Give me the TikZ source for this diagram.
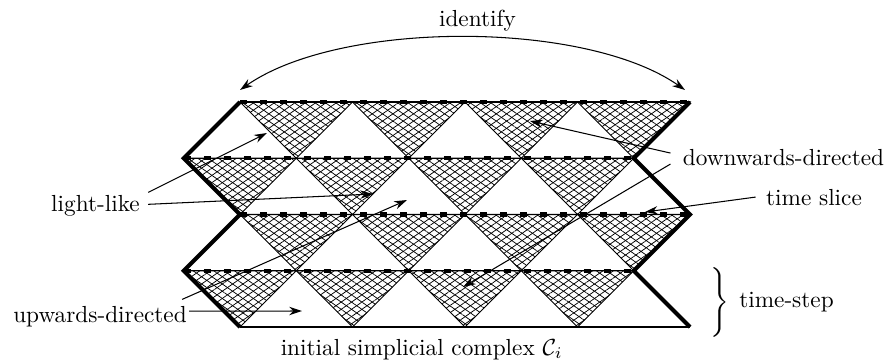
\documentclass[tikz,border=0pt]{standalone}
\usetikzlibrary{patterns.meta,arrows.meta}
\begin{document}
\begin{tikzpicture}[x=0.43pt,y=-0.43pt,
  hatched/.style={draw, line width=0.45pt,
    pattern={Lines[angle=35,distance=2.55pt,line width=0.32pt]},
    postaction={pattern={Lines[angle=-35,distance=2.55pt,line width=0.32pt]}}},
  boundary/.style={line width=1.8pt, line join=miter},
  thinline/.style={line width=0.45pt},
  slice/.style={line width=1.8pt, dash pattern=on 3.2pt off 5.4pt},
  lbl/.style={inner sep=0pt, anchor=base},
  pointer/.style={-{Stealth[length=5.5pt,width=3.6pt]}, line width=0.45pt},
  twoway/.style={{Stealth[length=5.5pt,width=3.6pt]}-{Stealth[length=5.5pt,width=3.6pt]}, line width=0.45pt}]
\useasboundingbox (0,0) rectangle (894,360);
\fill[white] (0,0) rectangle (894,360);

% down-pointing triangles of each layer, shaded
\foreach \j/\s in {0/0,1/-1,2/0,3/-1}
  \foreach \k in {0,...,3}
    \path[hatched] ({240+(\s+2*\k)*56.25},{102+\j*56.25}) -- ++(112.5,0) -- ++(-56.25,56.25) -- cycle;

% time slices
\foreach \j/\s in {0/0,1/-1,2/0,3/-1} {
  \draw[thinline] ({240+\s*56.25},{102+\j*56.25}) -- ++(450,0);
  \draw[slice] ({240+\s*56.25},{102+\j*56.25}) -- ++(450,0);
}
\draw[thinline] (240,327) -- (690,327);

% left and right boundaries
\draw[boundary] (240,102) -- (183.75,158.25) -- (240,214.5) -- (183.75,270.75) -- (240,327);
\draw[boundary] (690,102) -- (633.75,158.25) -- (690,214.5) -- (633.75,270.75) -- (690,327);

% labels
\node[lbl] (id) at (477.5,26) {identify};
\node[lbl] (ll) at (95.5,211) {light-like};
\node[lbl] (ud) at (100,322) {upwards-directed};
\node[lbl] (dd) at (783.5,165) {downwards-directed};
\node[lbl] (ts) at (814,205) {time slice};
\node[lbl] (tst) at (786.5,307) {time-step};
\node[inner sep=0pt] (br) at (718.5,302.5) {$\left.\vrule height 11pt depth 11pt width 0pt\right\}$};
\node[lbl, anchor=base east] (ic) at (563,355) {initial simplicial complex $\mathcal{C}_i$};

% arrow targets
\coordinate (idL) at (240,90);
\coordinate (idR) at (685,90);
\coordinate (llA) at (267,133);
\coordinate (llB) at (373,194);
\coordinate (udA) at (407,200);
\coordinate (udB) at (302,311);
\coordinate (ddA) at (530,121);
\coordinate (ddB) at (463,287);
\coordinate (tsA) at (645,212);

\draw[twoway] (idL) .. controls (340,20) and (585,20) .. (idR);
\draw[pointer] ([shift={(8,-2)}]ll.north east) -- (llA);
\draw[pointer] ([shift={(8,-1)}]ll.east) -- (llB);
\draw[pointer] ([shift={(-5,-6)}]ud.north east) -- (udA);
\draw[pointer] ([shift={(2,-5)}]ud.east) -- (udB);
\draw[pointer] ([shift={(-12,-4)}]dd.west) -- (ddA);
\draw[pointer] ([shift={(-12,7)}]dd.west) -- (ddB);
\draw[pointer] ([shift={(-10,0)}]ts.west) -- (tsA);
\end{tikzpicture}
\end{document}
